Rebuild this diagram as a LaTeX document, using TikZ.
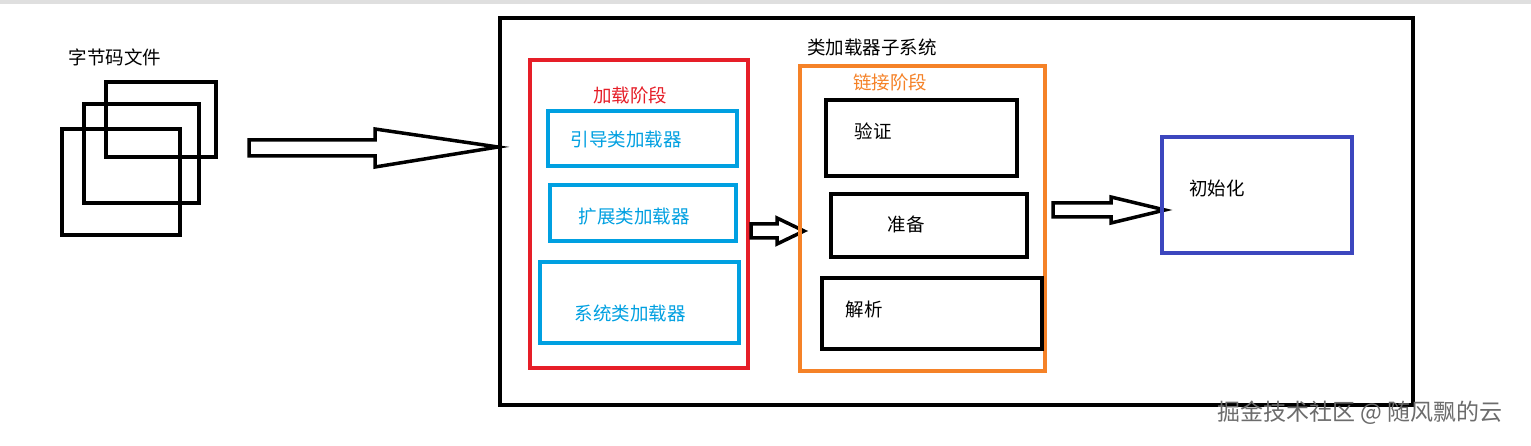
\documentclass[tikz,border=0pt]{standalone}
\usepackage{fontspec}
\setmainfont{Noto Sans CJK SC}
\begin{document}
\begin{tikzpicture}[x=1pt,y=-1pt,
  bx/.style={draw,line width=3.5pt},
  lbl/.style={font=\fontsize{18.5}{20}\selectfont},
  harrow/.style={draw,line width=3.5pt,fill=white,line join=miter}]
\useasboundingbox (0,0) rectangle (1531,446);
\fill[white] (0,0) rectangle (1531,446);
\fill[gray!25] (0,0) rectangle (1531,4);
% left files
\draw[bx] (106,82) rectangle (216,157);
\draw[bx] (84,104) rectangle (199,203);
\draw[bx] (62,129) rectangle (180,235);
\node[lbl] (files) at (115,57) {字节码文件};
% arrow 1
\draw[harrow] (249,140) -- (375,140) -- (375,129) -- (498,147) -- (375,167) -- (375,156) -- (249,156) -- cycle;
% subsystem
\draw[bx] (500,18) rectangle (1413,405);
\node[lbl] (sub) at (872,47) {类加载器子系统};
% loading
\draw[bx,draw={rgb,255:red,230;green,30;blue,40}] (530,60) rectangle (748,368);
\node[lbl,text={rgb,255:red,230;green,30;blue,40}] (load) at (630,95) {加载阶段};
\begin{scope}[every path/.style={bx,draw={rgb,255:red,0;green,160;blue,225}}]
\draw (548,111) rectangle (737,166);
\draw (550,185) rectangle (736,241);
\draw (540,262) rectangle (739,343);
\end{scope}
\node[lbl,text={rgb,255:red,0;green,160;blue,225}] (b1) at (626,139) {引导类加载器};
\node[lbl,text={rgb,255:red,0;green,160;blue,225}] (b2) at (634,217) {扩展类加载器};
\node[lbl,text={rgb,255:red,0;green,160;blue,225}] (b3) at (630,313) {系统类加载器};
% arrow 2
\draw[harrow] (751,224) -- (777,224) -- (777,218) -- (804,231) -- (777,244) -- (777,238) -- (751,238) -- cycle;
% linking
\draw[bx,draw={rgb,255:red,245;green,130;blue,40}] (800,66) rectangle (1045,371);
\node[lbl,text={rgb,255:red,245;green,130;blue,40}] (link) at (890,82) {链接阶段};
\draw[bx] (826,100) rectangle (1017,176);
\draw[bx] (831,194) rectangle (1027,257);
\draw[bx] (822,278) rectangle (1042,349);
\node[lbl] (v) at (873,131) {验证};
\node[lbl] (p) at (906,224) {准备};
\node[lbl] (r) at (864,309) {解析};
% arrow 3
\draw[harrow] (1053,203) -- (1111,203) -- (1111,197) -- (1165,210) -- (1111,223) -- (1111,217) -- (1053,217) -- cycle;
% init
\draw[bx,draw={rgb,255:red,60;green,70;blue,190}] (1162,137) rectangle (1352,253);
\node[lbl] (init) at (1217,188) {初始化};
% watermark
\node[font=\fontsize{23}{25}\selectfont,text=gray!85!black] (wm) at (1360,413) {掘金技术社区 @ 随风飘的云};
\end{tikzpicture}
\end{document}
